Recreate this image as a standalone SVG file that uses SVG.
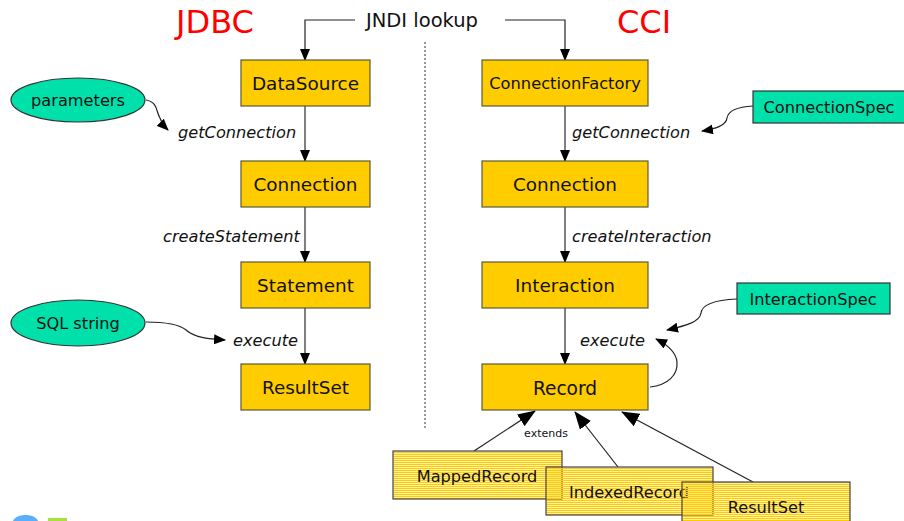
<svg xmlns="http://www.w3.org/2000/svg" width="904" height="521" viewBox="0 0 904 521">
<style>
.box{fill:#FFCC00;stroke:#5a5a3a;stroke-width:1.2}
.spec{fill:#00E0AA;stroke:#333;stroke-width:1.2}
.sub{fill:url(#stripes);stroke:#444;stroke-width:1.2}
.t{font-family:"DejaVu Sans",Verdana,sans-serif;font-size:18.4px;fill:#111;text-anchor:middle}
.s{font-size:16.2px}
.lbl{font-family:"DejaVu Sans",Verdana,sans-serif;font-size:16.2px;font-style:italic;fill:#111}
.title{font-family:"DejaVu Sans",Verdana,sans-serif;font-size:32px;fill:#FF0000;text-anchor:middle}
.ln{fill:none;stroke:#222;stroke-width:1.2}
.gl{fill:none;stroke:#555;stroke-width:1.5}
</style>
<defs>
<pattern id="stripes" width="4" height="2" patternUnits="userSpaceOnUse">
<rect width="4" height="1.3" fill="#FFCC00"/>
</pattern>
<marker id="ah" markerWidth="12" markerHeight="10" refX="11" refY="5" orient="auto" markerUnits="userSpaceOnUse">
<path d="M0,0 L12,5 L0,10 Z" fill="#000"/>
</marker>
<marker id="ahb" markerWidth="18" markerHeight="14" refX="17" refY="7" orient="auto" markerUnits="userSpaceOnUse">
<path d="M0,0 L18,7 L0,14 Z" fill="#000"/>
</marker>
</defs>
<rect width="904" height="521" fill="#fff"/>
<text class="title" x="215" y="33">JDBC</text>
<text class="title" x="644" y="33">CCI</text>
<text class="t" x="422" y="27" style="font-size:19.5px">JNDI lookup</text>
<line x1="425" y1="42" x2="425" y2="428" stroke="#555" stroke-width="1.2" stroke-dasharray="2,2"/>
<g id="connectors">
<path class="ln" d="M355,20 H305 V60" marker-end="url(#ah)"/>
<path class="ln" d="M505,20 H565 V60" marker-end="url(#ah)"/>
<path class="gl" d="M305,106 V161" marker-end="url(#ah)"/>
<path class="gl" d="M305,207 V262" marker-end="url(#ah)"/>
<path class="gl" d="M305,308 V364" marker-end="url(#ah)"/>
<path class="gl" d="M565,106 V161" marker-end="url(#ah)"/>
<path class="gl" d="M565,207 V262" marker-end="url(#ah)"/>
<path class="gl" d="M565,308 V364" marker-end="url(#ah)"/>
<path class="ln" d="M146,100 C158,102 156,112 160,118 C162,124 164,126 168,130" marker-end="url(#ah)"/>
<path class="ln" d="M146,322 C170,322 180,325 186,330 C195,338 210,339 225,340" marker-end="url(#ah)"/>
<path class="ln" d="M753,106 C735,107 728,112 727,118 C726,126 715,129 702,131" marker-end="url(#ah)"/>
<path class="ln" d="M737,299 C715,300 702,304 701,313 C700,322 685,326 667,330" marker-end="url(#ah)"/>
<path class="ln" d="M650,387 C668,385 678,375 677,362 C676,352 666,344 656,339" marker-end="url(#ah)"/>
<path class="ln" d="M474,451 L535,411" marker-end="url(#ahb)"/>
<path class="ln" d="M618,467 L575,412" marker-end="url(#ahb)"/>
<path class="ln" d="M753,482 L622,412" marker-end="url(#ahb)"/>
</g>
<text class="lbl" x="178" y="138">getConnection</text>
<text class="lbl" x="572" y="138">getConnection</text>
<text class="lbl" x="163" y="242">createStatement</text>
<text class="lbl" x="572" y="242">createInteraction</text>
<text class="lbl" x="233" y="346">execute</text>
<text class="lbl" x="580" y="346">execute</text>
<text x="546" y="437" style="font-family:'DejaVu Sans',Verdana,sans-serif;font-size:11px;fill:#111;text-anchor:middle">extends</text>
<g id="datasource"><rect class="box" x="241" y="60" width="129" height="46"/><text class="t" x="305.5" y="90">DataSource</text></g>
<g id="connection-jdbc"><rect class="box" x="241" y="161" width="129" height="46"/><text class="t" x="305.5" y="191">Connection</text></g>
<g id="statement"><rect class="box" x="241" y="262" width="129" height="46"/><text class="t" x="305.5" y="292">Statement</text></g>
<g id="resultset-jdbc"><rect class="box" x="241" y="364" width="129" height="46"/><text class="t" x="305.5" y="394">ResultSet</text></g>
<g id="connectionfactory"><rect class="box" x="482" y="60" width="166" height="46"/><text class="t" x="565" y="89" style="font-size:16.3px">ConnectionFactory</text></g>
<g id="connection-cci"><rect class="box" x="482" y="161" width="166" height="46"/><text class="t" x="565" y="191">Connection</text></g>
<g id="interaction"><rect class="box" x="482" y="262" width="166" height="46"/><text class="t" x="565" y="292">Interaction</text></g>
<g id="record"><rect class="box" x="482" y="364" width="166" height="46"/><text class="t" x="565" y="395" style="font-size:18.6px">Record</text></g>
<g id="parameters"><ellipse class="spec" cx="78" cy="100" rx="67" ry="22"/><text class="t s" x="78" y="106">parameters</text></g>
<g id="sqlstring"><ellipse class="spec" cx="78" cy="323" rx="67" ry="23"/><text class="t s" x="78" y="329">SQL string</text></g>
<g id="connectionspec"><rect class="spec" x="753" y="91" width="152" height="32"/><text class="t s" x="829" y="113">ConnectionSpec</text></g>
<g id="interactionspec"><rect class="spec" x="737" y="283" width="153" height="31"/><text class="t s" x="813" y="305">InteractionSpec</text></g>
<g id="mappedrecord"><rect class="sub" x="393" y="451" width="169" height="48"/><text class="t s" x="477" y="482">MappedRecord</text></g>
<g id="indexedrecord"><rect class="sub" x="546" y="467" width="167" height="48"/><text class="t s" x="629" y="498">IndexedRecord</text></g>
<g id="resultset-cci"><rect class="sub" x="682" y="482" width="168" height="48"/><text class="t s" x="766" y="513">ResultSet</text></g>
<path d="M13,521 C16,513 35,513 38,521 Z" fill="#5aaefc"/>
<rect x="48" y="518" width="19" height="3" fill="#a8e040"/>
</svg>
